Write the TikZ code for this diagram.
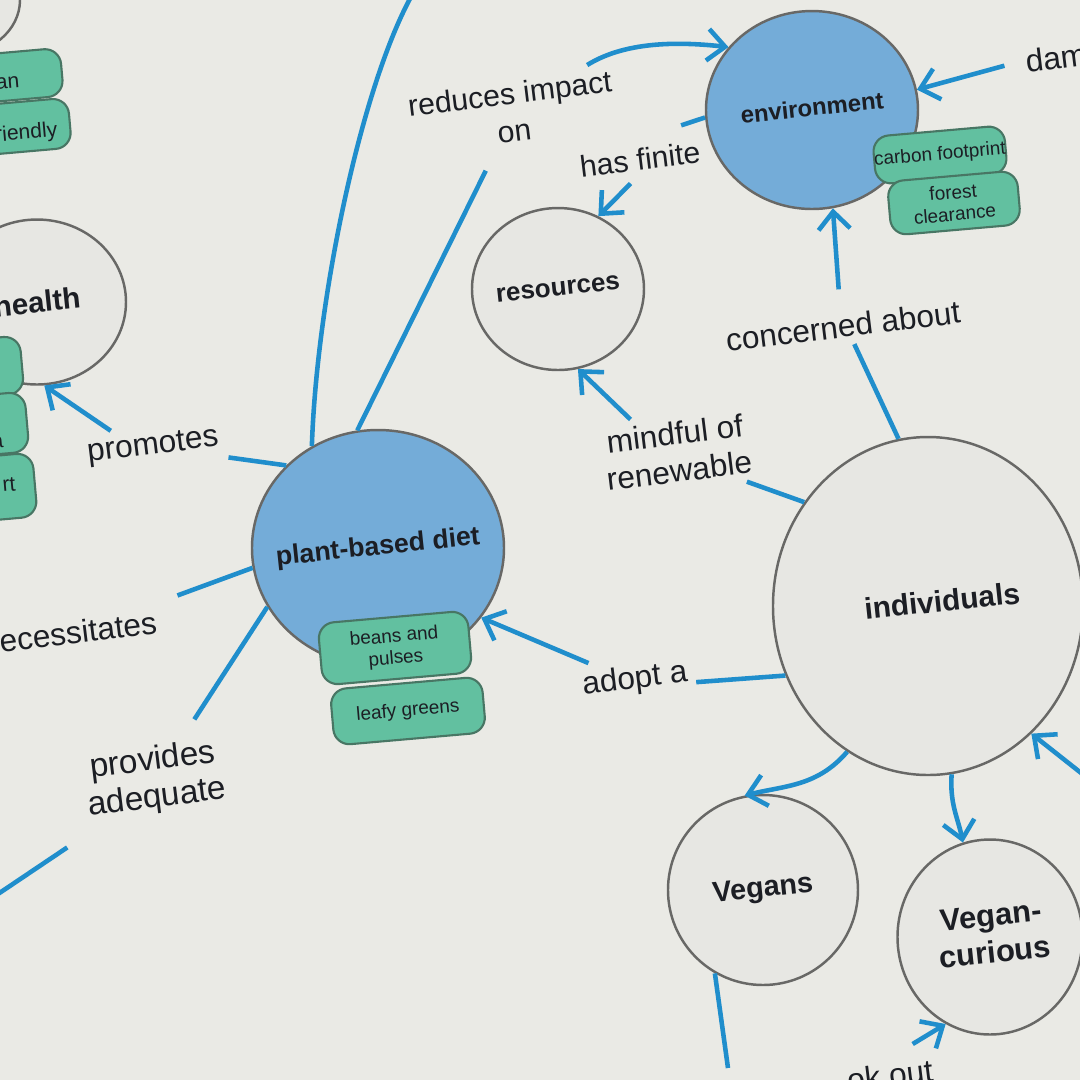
\documentclass[tikz,border=0pt]{standalone}
\usepackage{fontspec}
\setmainfont{Liberation Sans}
\usetikzlibrary{shapes.geometric,arrows.meta,calc}
\definecolor{paper}{RGB}{234,234,229}
\definecolor{conblue}{RGB}{116,172,216}
\definecolor{congrey}{RGB}{231,231,227}
\definecolor{rimgrey}{RGB}{104,104,102}
\definecolor{attrgreen}{RGB}{98,192,160}
\definecolor{attrrim}{RGB}{72,118,100}
\definecolor{linkblue}{RGB}{32,142,204}
\definecolor{ink}{RGB}{28,30,36}
\newcommand{\ctext}[3]{\makebox[0pt]{\raisebox{#2}{\hspace*{#1}\rotatebox{6}{#3}}}}
\begin{document}
\begin{tikzpicture}[x=0.1mm,y=-0.1mm,
  bluec/.style={ellipse,draw=rimgrey,fill=conblue,line width=0.7pt,inner sep=0pt,text=ink,align=center},
  greyc/.style={ellipse,draw=rimgrey,fill=congrey,line width=0.7pt,inner sep=0pt,text=ink,align=center},
  cf/.style={font=\bfseries\fontsize{#1}{10.5}\selectfont},
  attr/.style={draw=attrrim,fill=attrgreen,line width=0.6pt,rounded corners=1.6mm,rotate=5,inner sep=0pt,text=ink,font=\fontsize{5.4}{6.2}\selectfont,align=center},
  frag/.style={text=ink,font=\fontsize{6}{7}\selectfont,rotate=5,inner sep=0pt},
  lbl/.style={text=ink,font=\fontsize{#1}{10.6}\selectfont,align=center,rotate=7,inner sep=2pt},
  lbl/.default=9,
  conn/.style={draw=linkblue,line width=1.3pt},
  arr/.style={-{Straight Barb[length=5pt,width=9pt]}}
]
\useasboundingbox (0,0) rectangle (1080,1080);
\clip (0,0) rectangle (1080,1080);
\fill[paper] (0,0) rectangle (1080,1080);

% top-left group
\node[greyc,minimum width=13mm,minimum height=11mm] (tl) at (-45,0) {};
\node[attr,minimum width=12mm,minimum height=4.8mm] (tlA) at (2,77) {};
\node[frag,anchor=east] (tlAt) at (20,82) {an};
\node[attr,minimum width=12.4mm,minimum height=5mm] (tlB) at (8,128) {};
\node[frag,anchor=east] (tlBt) at (58,131) {riendly};

% health group
\node[greyc,minimum width=17.8mm,minimum height=16.5mm,cf=8.4] (health) at (37,302) {\ctext{0pt}{0pt}{health}};
\node[attr,minimum width=8mm,minimum height=5.8mm] (hA) at (-18,368) {};
\node[attr,minimum width=8mm,minimum height=6mm] (hB) at (-13,425) {};
\node[frag,anchor=east] (hBt) at (4,442) {a};
\node[attr,minimum width=8.2mm,minimum height=6.4mm] (hC) at (-6,488) {};
\node[frag,anchor=east] (hCt) at (16,484) {rt};

% plant-based diet
\node[bluec,minimum width=25.2mm,minimum height=23.6mm,cf=7.6] (pbd) at (378,548) {\ctext{0pt}{1pt}{plant-based diet}};
\node[attr,minimum width=15mm,minimum height=6.2mm] (pA) at (395,648) {beans and\\pulses};
\node[attr,minimum width=15.2mm,minimum height=5.6mm] (pB) at (408,711) {leafy greens};

% resources
\node[greyc,minimum width=17.2mm,minimum height=16.2mm,cf=7.4] (res) at (558,289) {\ctext{0pt}{0pt}{resources}};

% environment
\node[bluec,minimum width=21.2mm,minimum height=19.8mm,cf=6.8] (env) at (812,110) {\ctext{0pt}{1.5pt}{environment}};
\node[attr,minimum width=13mm,minimum height=4.8mm] (eA) at (940,155) {carbon footprint};
\node[attr,minimum width=13mm,minimum height=5.4mm] (eB) at (954,203) {forest\\clearance};

% individuals, Vegans, Vegan-curious
\node[greyc,minimum width=31mm,minimum height=33.8mm,cf=8.5] (ind) at (928,606) {\ctext{8pt}{3pt}{individuals}};
\node[greyc,minimum width=19mm,minimum height=19mm,cf=8.2] (veg) at (763,890) {\ctext{0pt}{1pt}{Vegans}};
\node[greyc,minimum width=18.5mm,minimum height=19.5mm,cf=8.8] (vc) at (990,937) {\ctext{2pt}{1pt}{\begin{tabular}{@{}c@{}}Vegan-\\curious\end{tabular}}};

% linking phrases
\node[lbl] (promotes) at (153,447) {promotes};
\node[lbl] (necess) at (78,632) {ecessitates};
\node[lbl=9.5] (provides) at (155,780) {provides\\adequate};
\node[lbl=8.6] (reduces) at (512,112) {reduces impact\\on};
\node[lbl=8.6] (hasfinite) at (640,159) {has finite};
\node[lbl] (mindful) at (677,452) {mindful of\\renewable};
\node[lbl] (concerned) at (843,326) {concerned about};
\node[lbl] (adopt) at (635,680) {adopt a};
\node[lbl,anchor=west] (dama) at (1018,62) {dama};
\node[lbl] (lookout) at (890,1075) {ok out};

% free ends
\coordinate (topend) at (412,-5);
\coordinate (leftend) at (-5,896);
\coordinate (rightend) at (1090,780);
\coordinate (vegdown) at (728,1068);

% connectors
\draw[conn] (pbd.123) .. controls +(5,-150) and +(-50,90) .. (topend);
\draw[conn,shorten >=6pt] (pbd.100) -- (reduces.240);
\draw[conn,arr] (reduces.25) .. controls +(40,-25) and +(-45,-5) .. (env.143);
\draw[conn,shorten >=14pt] (env.184) -- (hasfinite.100);
\draw[conn,arr,shorten <=2pt] (hasfinite.250) -- (res.61);
\draw[conn] (ind.140) -- (mindful.-30);
\draw[conn,arr] (mindful.138) -- (res.-76);
\draw[conn] (ind.100) -- (concerned.295);
\draw[conn,arr,shorten <=5pt] (concerned.92) -- (env.282);
\draw[conn] (ind.206) -- (adopt.-9);
\draw[conn,arr] (adopt.153) -- (pbd.-34);
\draw[conn] (pbd.138) -- (promotes);
\draw[conn,arr] (promotes.152) -- (health.-85);
\draw[conn,shorten >=6pt] (pbd.189) -- (necess);
\draw[conn,shorten >=5pt] (pbd.208) -- (provides);
\draw[conn,shorten <=9pt] (provides.212) -- (leftend);
\draw[conn,arr] (ind.241) .. controls +(-30,35) and +(40,-10) .. (veg.101);
\draw[conn,arr] (ind.278) .. controls +(-2,30) and +(-5,-25) .. (vc.106);
\draw[conn,arr] (rightend) -- (ind.-51);
\draw[conn,arr,shorten <=4pt] (dama.west) -- (env.11);
\draw[conn] (veg.240) -- (vegdown);
\draw[conn,arr,shorten <=6pt] (lookout.70) -- (vc.243);
\end{tikzpicture}
\end{document}
